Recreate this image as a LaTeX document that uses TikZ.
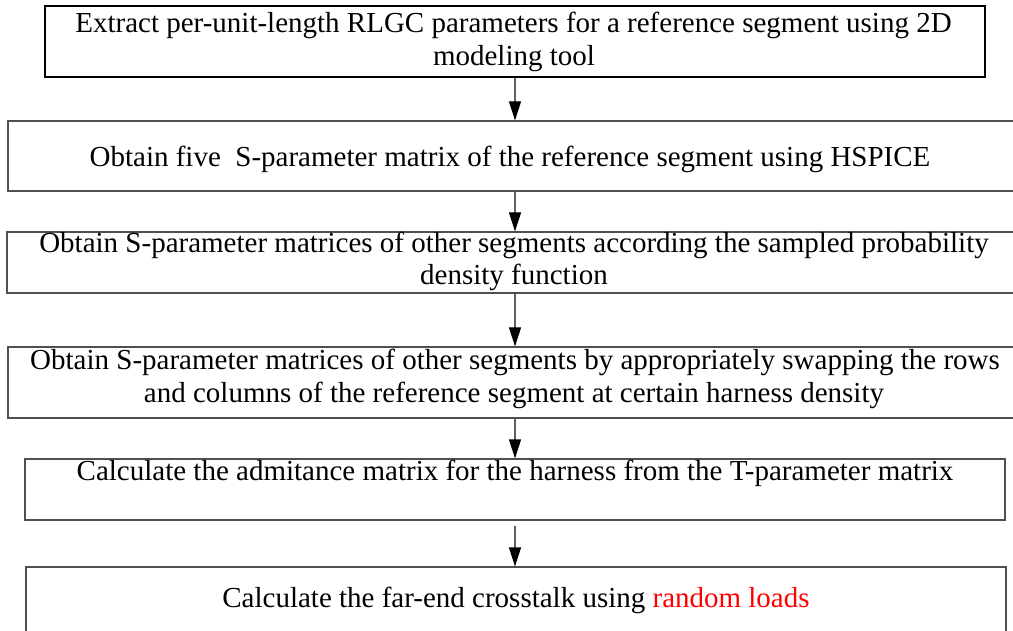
\documentclass[tikz,border=0pt]{standalone}
\usepackage{fontspec}
\setmainfont{Liberation Serif}
\usetikzlibrary{arrows.meta}
\definecolor{boxgray}{HTML}{505050}
\definecolor{shaftgray}{HTML}{606060}
\definecolor{loadred}{HTML}{FF0000}
\begin{document}
\begin{tikzpicture}[x=1pt,y=-1pt,
  box/.style={draw=boxgray, line width=1.2pt, inner sep=0pt, fill=none},
  txt/.style={anchor=base, inner sep=0pt, font=\fontsize{29}{34}\selectfont},
  arr/.style={draw=shaftgray, line width=1.2pt, -{Triangle[length=19pt,width=12pt,color=black]}}]
\useasboundingbox (0,0) rectangle (1013,631);
% boxes
\node[box, draw=black, minimum width=940pt, minimum height=71pt] (b1) at (515,41.5) {};
\node[box, minimum width=1012pt, minimum height=70pt] (b2) at (514,156) {};
\node[box, minimum width=1013pt, minimum height=61pt] (b3) at (513.5,262.5) {};
\node[box, minimum width=1012pt, minimum height=71pt] (b4) at (514,382.5) {};
\node[box, minimum width=980pt, minimum height=61pt] (b5) at (515,489.5) {};
\node[box, minimum width=980pt, minimum height=73pt] (b6) at (516,603.5) {};
% texts
\node[txt] (t1a) at (513.5,33) {Extract per-unit-length RLGC parameters for a reference segment using 2D};
\node[txt] (t1b) at (514,66) {modeling tool};
\node[txt] (t2) at (510,167) {Obtain five~ S-parameter matrix of the reference segment using HSPICE};
\node[txt] (t3a) at (514,253) {Obtain S-parameter matrices of other segments according the sampled probability};
\node[txt] (t3b) at (514,285) {density function};
\node[txt] (t4a) at (515,370) {Obtain S-parameter matrices of other segments by appropriately swapping the rows};
\node[txt] (t4b) at (514,402) {and columns of the reference segment at certain harness density};
\node[txt] (t5) at (515,480) {Calculate the admitance matrix for the harness from the T-parameter matrix};
\node[txt] (t6) at (516,607) {Calculate the far-end crosstalk using \textcolor{loadred}{random loads}};
% arrows
\coordinate (ax) at (515,0);
\draw[arr] (b1.south -| ax) -- (b2.north -| ax);
\draw[arr] (b2.south -| ax) -- (b3.north -| ax);
\draw[arr] (b3.south -| ax) -- (b4.north -| ax);
\draw[arr] (b4.south -| ax) -- (b5.north -| ax);
\draw[arr, shorten <=5pt] (b5.south -| ax) -- (b6.north -| ax);
\end{tikzpicture}
\end{document}
